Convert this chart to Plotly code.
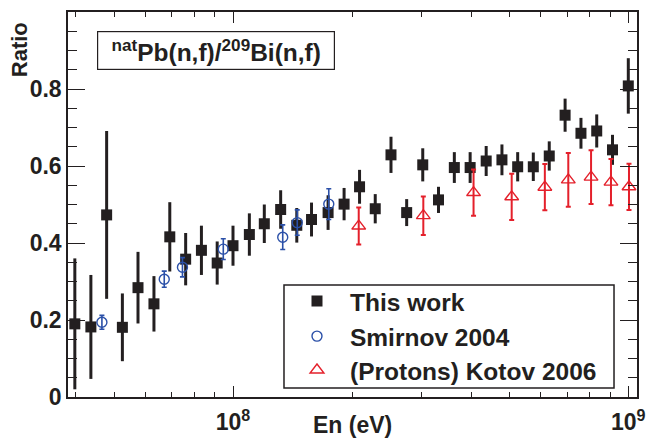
import plotly.graph_objects as go

# ---- This work: natPb(n,f)/209Bi(n,f) ratio per energy bin ----
work_E = [3.98e7, 4.37e7, 4.79e7, 5.25e7, 5.75e7, 6.31e7, 6.92e7, 7.59e7, 8.32e7, 9.12e7,
          1.00e8, 1.10e8, 1.20e8, 1.32e8, 1.45e8, 1.58e8, 1.74e8, 1.91e8, 2.09e8, 2.29e8,
          2.51e8, 2.75e8, 3.02e8, 3.31e8, 3.63e8, 3.98e8, 4.37e8, 4.79e8, 5.25e8, 5.75e8,
          6.31e8, 6.92e8, 7.59e8, 8.32e8, 9.12e8, 1.00e9]
work_ratio = [0.190, 0.182, 0.473, 0.181, 0.284, 0.242, 0.416, 0.358, 0.381, 0.348,
              0.393, 0.422, 0.450, 0.487, 0.446, 0.461, 0.479, 0.501, 0.546, 0.489,
              0.629, 0.479, 0.603, 0.512, 0.596, 0.596, 0.613, 0.616, 0.598, 0.598,
              0.626, 0.732, 0.685, 0.691, 0.642, 0.808]
work_err = [0.170, 0.135, 0.218, 0.088, 0.093, 0.072, 0.090, 0.068, 0.064, 0.056,
            0.052, 0.055, 0.050, 0.050, 0.045, 0.044, 0.045, 0.042, 0.044, 0.038,
            0.047, 0.035, 0.043, 0.034, 0.040, 0.040, 0.039, 0.040, 0.038, 0.037,
            0.038, 0.043, 0.040, 0.043, 0.039, 0.072]

# ---- Smirnov 2004 ----
smir_E = [4.66e7, 6.70e7, 7.45e7, 9.45e7, 1.336e8, 1.454e8, 1.747e8]
smir_ratio = [0.194, 0.306, 0.337, 0.384, 0.415, 0.453, 0.501]
smir_err = [0.018, 0.021, 0.025, 0.027, 0.032, 0.033, 0.040]

# ---- Kotov 2006 (protons) ----
kot_E = [2.08e8, 3.03e8, 4.06e8, 5.07e8, 6.15e8, 7.05e8, 8.05e8, 9.04e8, 1.004e9]
kot_ratio = [0.444, 0.471, 0.531, 0.520, 0.545, 0.564, 0.571, 0.558, 0.546]
kot_err = [0.048, 0.050, 0.060, 0.060, 0.060, 0.070, 0.070, 0.060, 0.060]

x_major = [1e8, 1e9]
x_major_text = ["10<sup>8</sup>", "10<sup>9</sup>"]
x_minor = [4e7, 5e7, 6e7, 7e7, 8e7, 9e7, 2e8, 3e8, 4e8, 5e8, 6e8, 7e8, 8e8, 9e8]

INK = "#231f20"
BLUE = "#2b50a8"
RED = "#e4202b"
FONT = "Liberation Sans"

fig = go.Figure()

fig.add_trace(go.Scatter(
    x=work_E, y=work_ratio, mode="markers", name="This work", legend="legend",
    marker=dict(symbol="square", size=11, color=INK),
    error_y=dict(type="data", array=work_err, color=INK, thickness=3, width=0),
))
fig.add_trace(go.Scatter(
    x=smir_E, y=smir_ratio, mode="markers", name="Smirnov 2004", legend="legend2",
    marker=dict(symbol="circle-open", size=10, color=BLUE, line=dict(width=1.4, color=BLUE)),
    error_y=dict(type="data", array=smir_err, color=BLUE, thickness=1.6, width=2.5),
))
fig.add_trace(go.Scatter(
    x=kot_E, y=kot_ratio, mode="markers", name="(Protons) Kotov 2006", legend="legend3",
    marker=dict(symbol="triangle-up-open", size=12, color=RED, line=dict(width=1.4, color=RED)),
    error_y=dict(type="data", array=kot_err, color=RED, thickness=2, width=2.5),
))

axis_common = dict(
    showgrid=False, zeroline=False, showline=True, linecolor=INK, linewidth=1.5,
    mirror="allticks", ticks="inside", tickcolor=INK, tickwidth=1.2, automargin=False,
    tickfont=dict(family=FONT, size=23, color=INK, weight="bold"),
)

fig.update_xaxes(
    type="log", range=[7.5826, 9.022],
    tickmode="array", tickvals=x_major, ticktext=x_major_text, ticklen=11,
    ticklabelstandoff=4,
    minor=dict(tickmode="array", tickvals=x_minor, ticks="inside", ticklen=5,
               tickcolor=INK, tickwidth=1.2, showgrid=False),
    **axis_common,
)
fig.update_yaxes(
    range=[0, 1], tickmode="linear", tick0=0, dtick=0.2, ticklen=17,
    minor=dict(tickmode="linear", tick0=0, dtick=0.05, ticks="inside", ticklen=9,
               tickcolor=INK, tickwidth=1.2, showgrid=False),
    **axis_common,
)

# one legend per row so the rows sit at fixed heights inside a common frame
legend_font = dict(family=FONT, size=24.5, color=INK, weight="bold")
row_common = dict(x=0.3796, xanchor="left", yanchor="middle",
                  bgcolor="rgba(0,0,0,0)", borderwidth=0, font=legend_font, itemwidth=56)

fig.update_layout(
    width=646, height=440,
    margin=dict(l=68, r=9, t=12, b=43, autoexpand=False),
    paper_bgcolor="white", plot_bgcolor="white",
    font=dict(family=FONT, color=INK, weight="bold"),
    showlegend=True,
    legend=dict(y=0.249, **row_common),
    legend2=dict(y=0.158, **row_common),
    legend3=dict(y=0.070, **row_common),
    shapes=[
        dict(type="rect", xref="paper", yref="paper",
             x0=0.3796, x1=0.9596, y0=0.0234, y1=0.2909,
             line=dict(color=INK, width=1.5), fillcolor="white", layer="above"),
    ],
    annotations=[
        dict(text="<sup>nat</sup>Pb(n,f)/<sup>209</sup>Bi(n,f)",
             xref="paper", yref="paper", x=0.260, y=0.899,
             xanchor="center", yanchor="middle", showarrow=False,
             width=236, height=37, borderpad=0,
             bordercolor=INK, borderwidth=1.2, bgcolor="white",
             font=dict(family=FONT, size=24.5, color=INK, weight="bold")),
        dict(text="Ratio", xref="paper", yref="paper", x=-0.085, y=0.979,
             xanchor="center", yanchor="top", textangle=-90, showarrow=False,
             font=dict(family=FONT, size=22, color=INK, weight="bold")),
        dict(text="En (eV)", xref="paper", yref="paper", x=0.5, y=-0.073,
             xanchor="center", yanchor="middle", showarrow=False,
             font=dict(family=FONT, size=23, color=INK, weight="bold")),
    ],
)

fig.write_html("out.html")
